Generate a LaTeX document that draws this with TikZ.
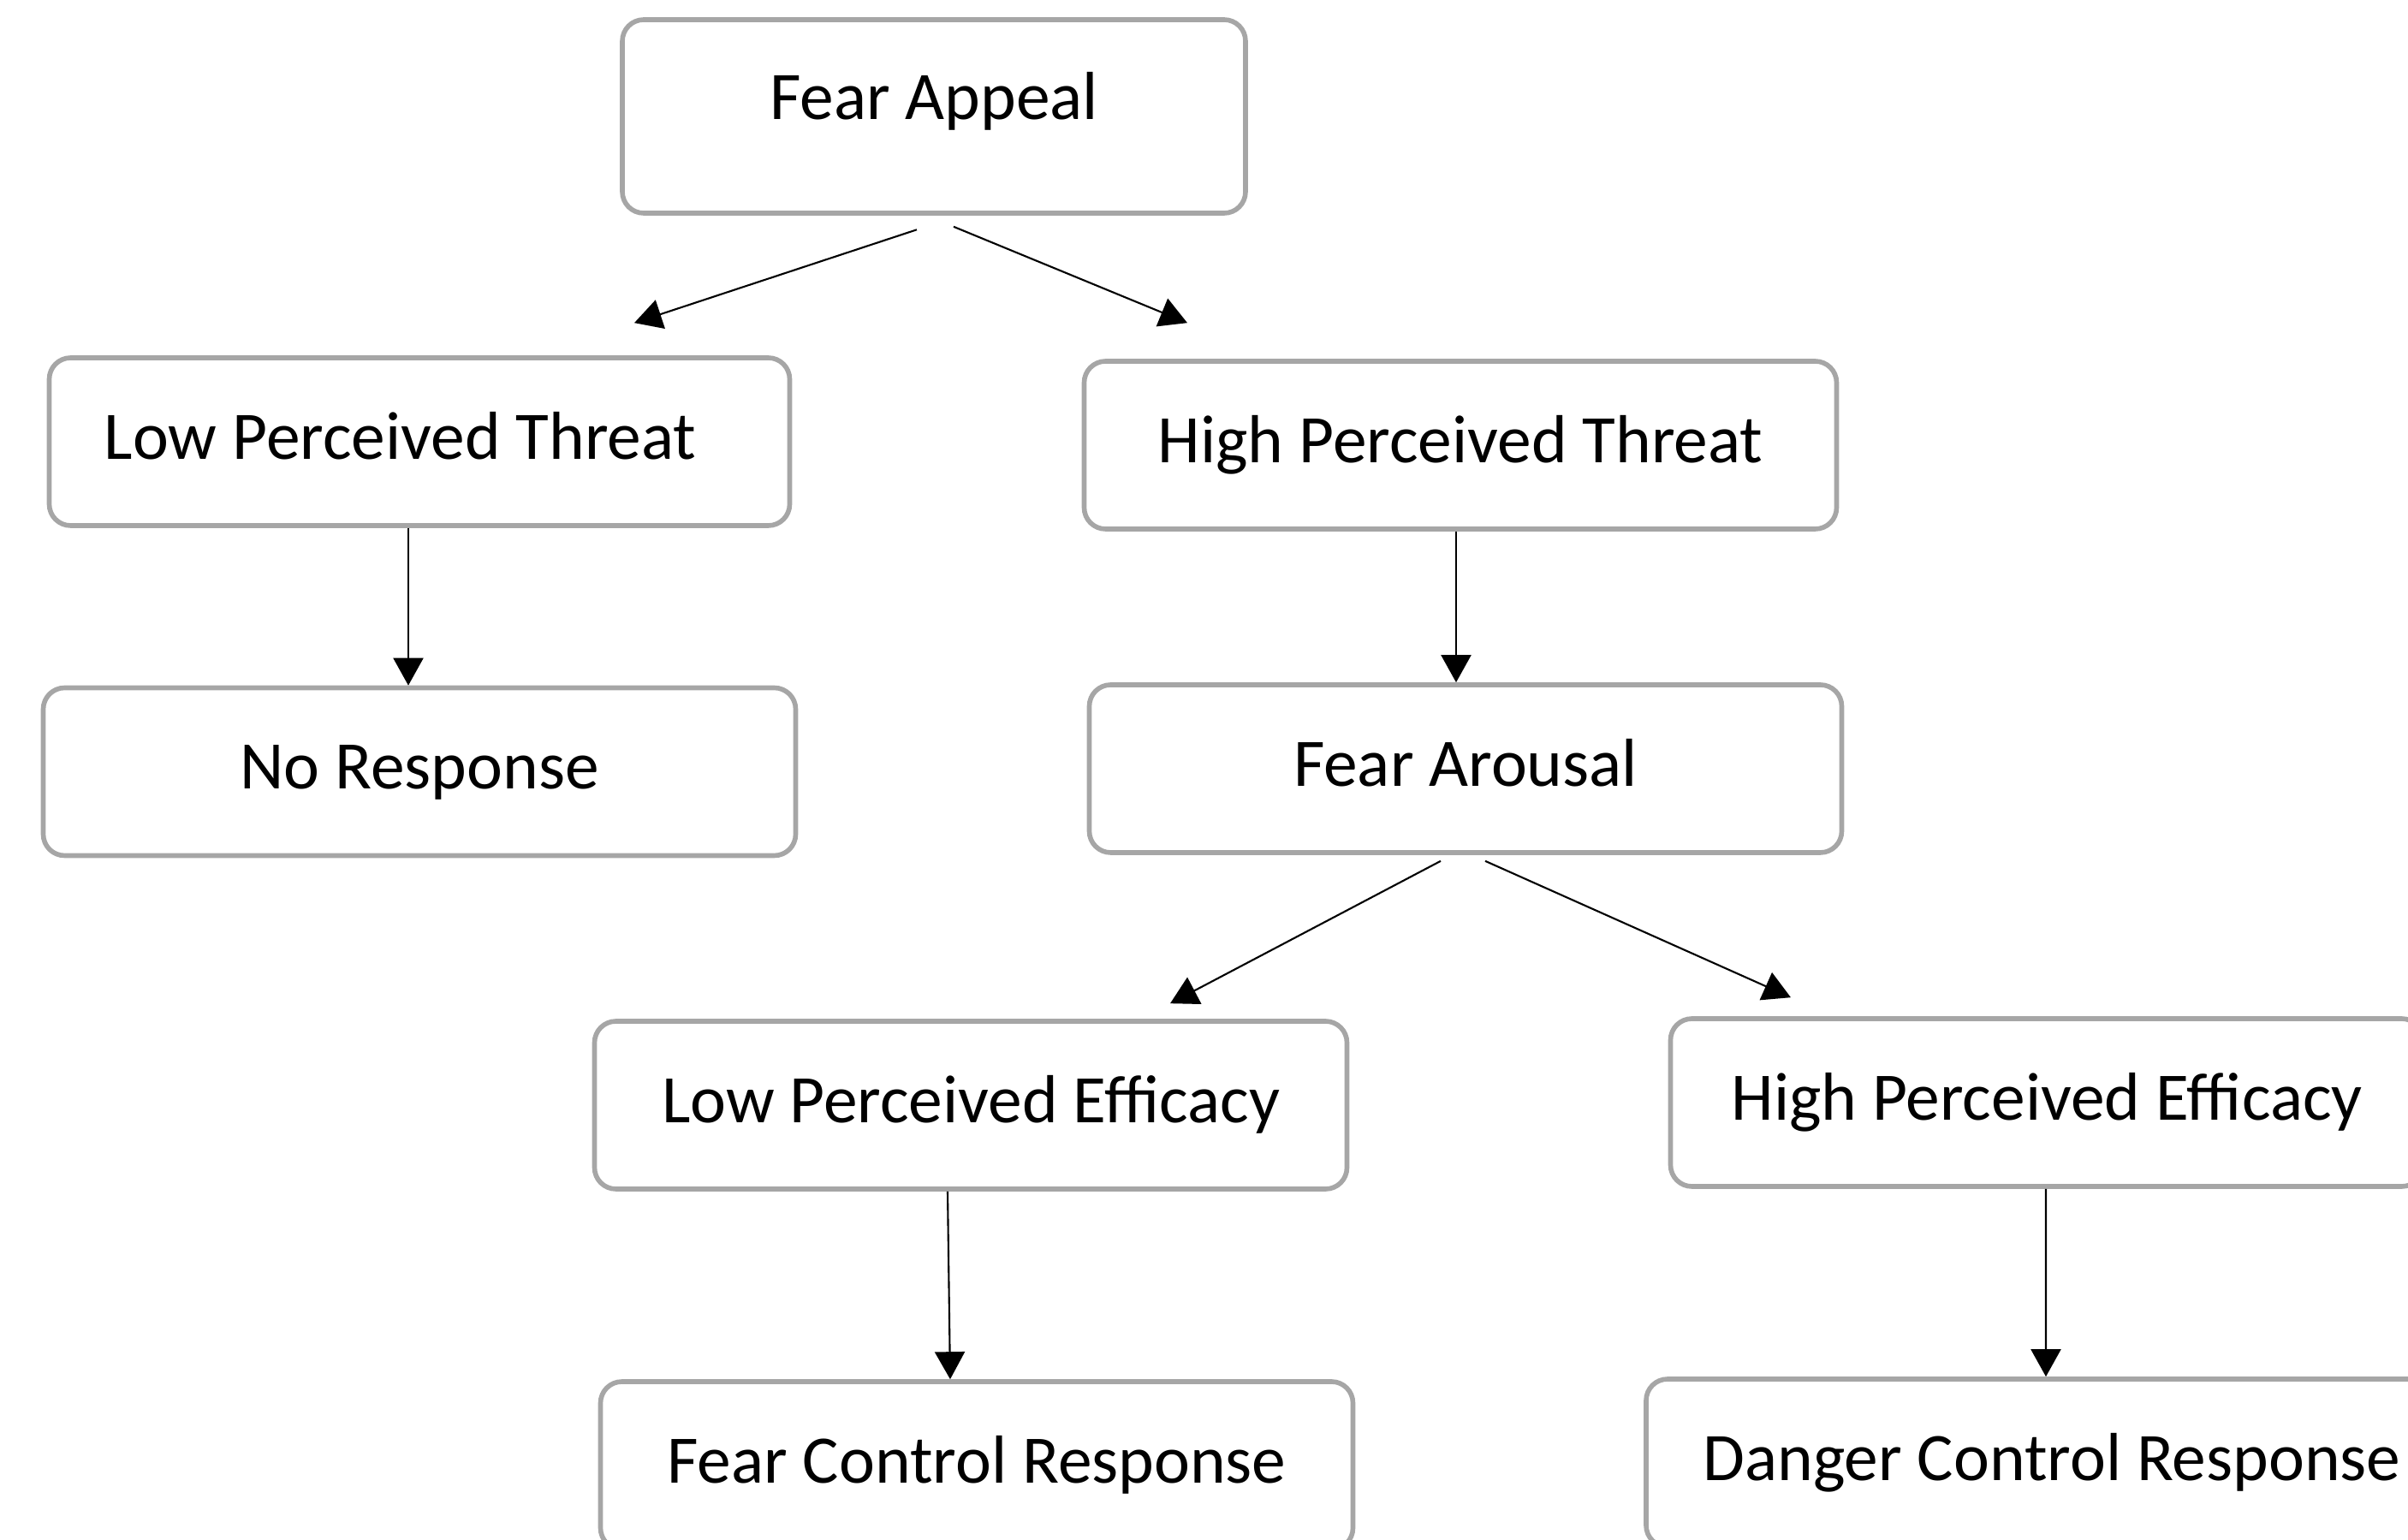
\documentclass[tikz,border=0pt]{standalone}
\usepackage{fontspec}
\setmainfont{Carlito}
\usepackage{tikz}
\usetikzlibrary{arrows.meta}
\usepackage{xcolor}
\definecolor{BoxGray}{HTML}{A6A6A6}

\begin{document}
\begin{tikzpicture}[
    box/.style={draw=BoxGray,line width=1.6pt,rounded corners=0.25cm,minimum width=8.79cm,minimum height=1.96cm,inner sep=0pt,text height=0.56cm,text depth=0.15cm,font=\fontsize{22.6}{27}\selectfont},
    arr/.style={-{Triangle[length=0.32cm,width=0.35cm]},line width=0.6pt}
  ]
    \useasboundingbox (0,0) rectangle (28.13,-17.99);
    \clip (0,0) rectangle (28.13,-17.99);

    \node[box,minimum width=7.28cm,minimum height=2.26cm,text depth=0.48cm] (appeal) at (10.91,-1.36) {Fear Appeal};
    \node[box,minimum width=8.65cm] (lpt) at (4.90,-5.16) {Low Perceived Threat\kern0.45cm};
    \node[box] (hpt) at (17.06,-5.20) {High Perceived Threat};
    \node[box] (none) at (4.90,-9.015) {No Response};
    \node[box] (arousal) at (17.12,-8.98) {Fear Arousal};
    \node[box] (lpe) at (11.34,-12.91) {Low Perceived Efficacy};
    \node[box] (hpe) at (23.91,-12.88) {High Perceived Efficacy};
    \node[box] (fcr) at (11.41,-17.12) {Fear Control Response};
    \node[box,minimum width=9.48cm] (dcr) at (23.97,-17.09) {Danger Control Response};

    \draw[arr] ([shift={(-0.20,-0.165)}]appeal.south) -- ([shift={(2.51,0.38)}]lpt.north);
    \draw[arr] ([shift={(0.23,-0.13)}]appeal.south) -- ([shift={(-3.19,0.42)}]hpt.north);
    \draw[arr] ([xshift=-0.13cm]lpt.south) -- ([xshift=-0.13cm]none.north);
    \draw[arr] ([xshift=-0.05cm]hpt.south) -- ([xshift=-0.11cm]arousal.north);
    \draw[arr] ([shift={(-0.29,-0.07)}]arousal.south) -- ([shift={(2.33,0.18)}]lpe.north);
    \draw[arr] ([shift={(0.23,-0.07)}]arousal.south) -- ([shift={(-2.99,0.22)}]hpe.north);
    \draw[arr] ([xshift=-0.27cm]lpe.south) -- ([xshift=-0.31cm]fcr.north);
    \draw[arr] ([xshift=-0.01cm]hpe.south) -- ([xshift=-0.07cm]dcr.north);
\end{tikzpicture}
\end{document}
